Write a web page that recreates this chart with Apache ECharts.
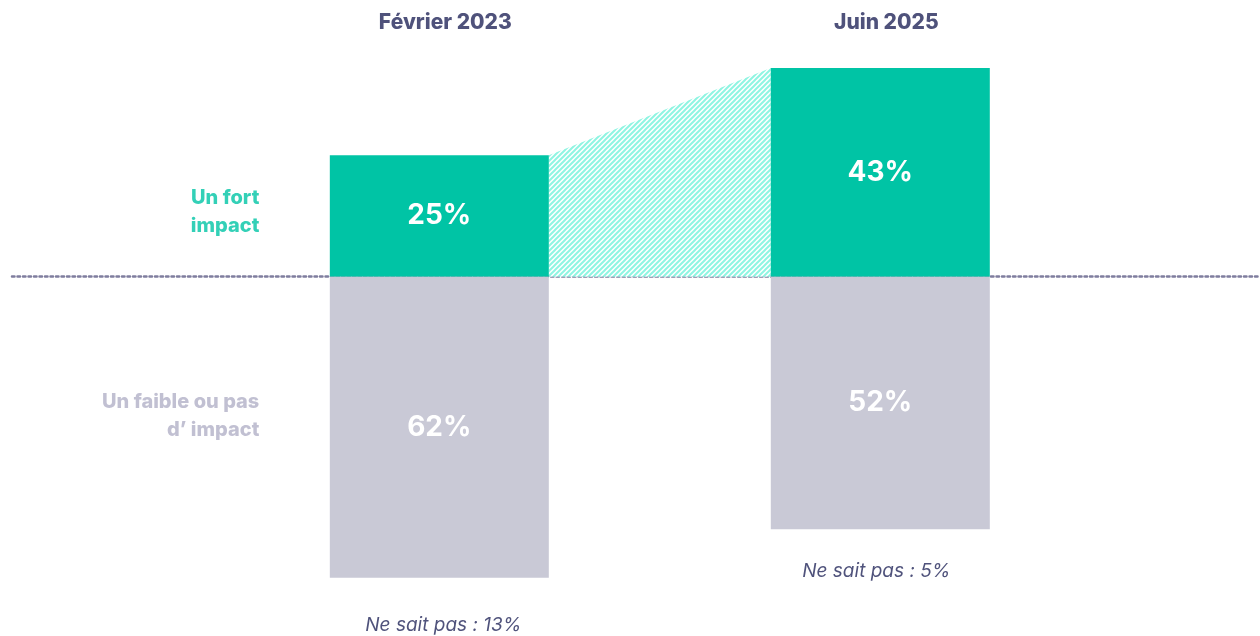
<!DOCTYPE html>
<html>
<head>
<meta charset="utf-8">
<script src="https://cdn.jsdelivr.net/npm/echarts@6/dist/echarts.min.js"></script>
<style>
  html, body { margin: 0; padding: 0; background: #fff; }
  #chart { width: 1260px; height: 636px; }
</style>
</head>
<body>
<div id="chart"></div>
<script>
// données
const periods = ['Février 2023', 'Juin 2025'];
const fortImpact = [25, 43];
const faibleImpact = [62, 52];
const neSaitPas = [13, 5];
const rowLabels = ['Un fort\nimpact', 'Un faible ou pas\nd\u2019 impact'];

const GREEN = '#00c4a5';
const GREY = '#c9c9d6';
const NAVY = '#23275a';
const FONT = 'Inter';
const BAR_W = 219;

// motif hachuré pour la zone de liaison
function hatch() {
    const c = document.createElement('canvas');
    c.width = 5; c.height = 5;
    const ctx = c.getContext('2d');
    ctx.fillStyle = '#ffffff';
    ctx.fillRect(0, 0, 5, 5);
    ctx.strokeStyle = '#8ef5e2';
    ctx.lineWidth = 2;
    ctx.beginPath();
    ctx.moveTo(-1, 6); ctx.lineTo(6, -1);
    ctx.moveTo(-1, 1); ctx.lineTo(1, -1);
    ctx.moveTo(4, 6); ctx.lineTo(6, 4);
    ctx.stroke();
    return c;
}

let myChart = echarts.init(document.getElementById('chart'));

const option = {
    animation: false,
    grid: { left: 12, right: 0, top: 0, bottom: 0 },
    xAxis: {
        type: 'value',
        min: -0.969,
        max: 1.861,
        axisLine: {
            show: true,
            onZero: true,
            lineStyle: { color: '#7f7d9e', width: 2.5, type: [2.5, 3] }
        },
        axisTick: { show: false },
        axisLabel: { show: false },
        splitLine: { show: false }
    },
    yAxis: {
        type: 'value',
        min: -74,
        max: 57,
        show: false,
        splitLine: { show: false }
    },
    series: [
        {
            // zone hachurée entre les deux barres vertes
            type: 'custom',
            z: 1,
            silent: true,
            renderItem: (params, api) => {
                const a = api.coord([0, fortImpact[0]]);
                const b = api.coord([1, fortImpact[1]]);
                const zero = api.coord([0, 0])[1];
                const h = BAR_W / 2;
                return {
                    type: 'polygon',
                    shape: {
                        points: [
                            [a[0] + h, a[1]],
                            [b[0] - h, b[1]],
                            [b[0] - h, zero],
                            [a[0] + h, zero]
                        ]
                    },
                    style: { fill: { image: hatch(), repeat: 'repeat' } }
                };
            },
            data: [0]
        },
        {
            name: 'Un fort impact',
            type: 'bar',
            stack: 'total',
            barWidth: BAR_W,
            z: 3,
            itemStyle: { color: GREEN },
            label: {
                show: true, position: 'inside', color: '#fff',
                fontFamily: FONT, fontWeight: 'bold', fontSize: 28,
                formatter: p => p.value[1] + '%'
            },
            data: fortImpact.map((v, i) => [i, v])
        },
        {
            name: 'Un faible ou pas d\u2019 impact',
            type: 'bar',
            stack: 'total',
            barWidth: BAR_W,
            z: 3,
            itemStyle: { color: GREY },
            label: {
                show: true, position: 'inside', color: '#fff',
                fontFamily: FONT, fontWeight: 'bold', fontSize: 28,
                formatter: p => (-p.value[1]) + '%'
            },
            data: faibleImpact.map((v, i) => [i, -v])
        },
        {
            // titres des colonnes
            type: 'scatter',
            symbolSize: 0,
            silent: true,
            label: {
                show: true, position: 'bottom', distance: 12, offset: [6, 0],
                color: NAVY, fontFamily: FONT, fontWeight: 800, fontSize: 21,
                formatter: p => periods[p.dataIndex]
            },
            data: periods.map((p, i) => [i, 57])
        },
        {
            // ne sait pas
            type: 'scatter',
            symbolSize: 0,
            silent: true,
            label: {
                show: true, position: 'bottom',
                color: NAVY, fontFamily: FONT, fontStyle: 'italic', fontSize: 19,
                formatter: p => 'Ne sait pas : ' + neSaitPas[p.dataIndex] + '%'
            },
            data: neSaitPas.map((v, i) => ({
                value: [i, -faibleImpact[i]],
                label: { distance: [38, 33][i], offset: [[4, 0], [-4, 0]][i] }
            }))
        },
        {
            // libellés des lignes
            type: 'scatter',
            symbolSize: 0,
            silent: true,
            label: {
                show: true, position: 'left', distance: 180,
                align: 'right', fontFamily: FONT, fontWeight: 800,
                fontSize: 20, lineHeight: 28
            },
            data: [
                { value: [0, fortImpact[0] / 2 + 0.8], label: { color: GREEN, formatter: rowLabels[0] } },
                { value: [0, -faibleImpact[0] / 2 + 2.4], label: { color: '#b1b0c7', formatter: rowLabels[1] } }
            ]
        }
    ]
};

myChart.setOption(option);
window.onresize = myChart.resize;
</script>
</body>
</html>
